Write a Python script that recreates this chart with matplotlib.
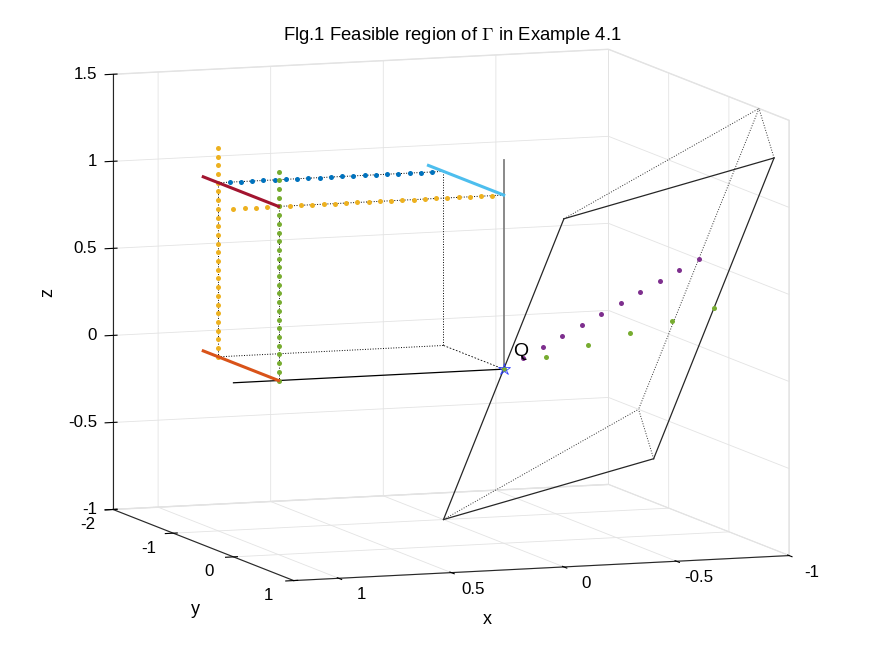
import numpy as np
import matplotlib.pyplot as plt
from mpl_toolkits.mplot3d import proj3d

plt.rcParams['font.family'] = ['Liberation Sans', 'DejaVu Sans']
plt.rcParams['mathtext.fontset'] = 'cm'
plt.rcParams['axes.unicode_minus'] = False
plt.rcParams['grid.color'] = '#e3e3e3'
plt.rcParams['grid.linewidth'] = 0.6

# axis ranges and ticks
x_lim = [-1, 1.2]
y_lim = [-2, 1]
z_lim = [-1, 1.5]
x_ticks = [-1, -0.5, 0, 0.5, 1]
y_ticks = [-2, -1, 0, 1]
z_ticks = [-1, -0.5, 0, 0.5, 1, 1.5]
x_ticklabels = ['-1', '-0.5', '0', '0.5', '1']
y_ticklabels = ['-2', '-1', '0', '1']
z_ticklabels = ['-1', '-0.5', '0', '0.5', '1', '1.5']

# unit cube edges (dotted)
cube_edges = [
    ((1, -1, 0), (1, -1, 1)),
    ((1, 0, 0), (1, 0, 1)),
    ((0, -1, 0), (0, -1, 1)),
    ((1, -1, 1), (0, -1, 1)),
    ((1, 0, 1), (0, 0, 1)),
    ((1, -1, 0), (0, -1, 0)),
    ((1, -1, 1), (1, 0, 1)),
    ((1, -1, 0), (1, 0, 0)),
    ((0, -1, 1), (0, 0, 1)),
]
cube_edge_dashed = ((0, -1, 0), (0, 0, 0))

# coloured solid segments: (x pair, y pair, z pair)
seg_red = ([1, 1], [-1.25, 0], [1, 1])
seg_orange = ([1, 1], [-1.25, 0], [0, 0])
seg_cyan = ([0, 0], [-1.25, 0], [1, 1])
seg_gray = ([0, 0], [0, 0], [0, 1.2])
seg_black = ([0, 1.2], [0, 0], [0, 0])

# dotted marker series
blue_x = [0.05, 0.1, 0.15, 0.2, 0.25, 0.3, 0.35, 0.4, 0.45, 0.5,
          0.55, 0.6, 0.65, 0.7, 0.75, 0.8, 0.85, 0.9, 0.95]
yellow_h_x = [0.05, 0.1, 0.15, 0.2, 0.25, 0.3, 0.35, 0.4, 0.45, 0.5,
              0.55, 0.6, 0.65, 0.7, 0.75, 0.8, 0.85, 0.9, 0.95, 1.0,
              1.05, 1.1, 1.15, 1.2]
vert_z = [0, 0.05, 0.1, 0.15, 0.2, 0.25, 0.3, 0.35, 0.4, 0.45, 0.5,
          0.55, 0.6, 0.65, 0.7, 0.75, 0.8, 0.85, 0.9, 0.95, 1.0,
          1.05, 1.1, 1.15, 1.2]

purple_x = [-0.1, -0.2, -0.3, -0.4, -0.5, -0.6, -0.7, -0.8, -0.9, -1.0]
purple_y = [-0.05, -0.1, -0.15, -0.2, -0.25, -0.3, -0.35, -0.4, -0.45, -0.5]
purple_z = [0.05, 0.1, 0.15, 0.2, 0.25, 0.3, 0.35, 0.4, 0.45, 0.5]
green_x = [0, -0.2, -0.4, -0.6, -0.8, -1.0]
green_y = [0, -0.05, -0.1, -0.15, -0.2, -0.25]
green_z = [0, 0.05, 0.1, 0.15, 0.2, 0.25]

# triangular prism: top A, B, C and bottom F, D, E
A, B, C = (0, 1, 1), (-1, 0.75, 1.25), (-1, 0.5, 1.5)
F, D, E = (0, -1, -1), (-1, -1.25, -0.75), (-1, -1.5, -0.5)
prism_solid = [(A, F), (A, B), (B, D), (D, F)]
prism_dotted = [(A, C), (B, C), (C, E), (D, E), (F, E)]

fig = plt.figure(figsize=(8.72, 6.54), dpi=100)
S = 820
cx, cy = 440, 326
ax = fig.add_axes([(cx - S / 2) / 872, 1 - (cy + S / 2) / 654, S / 872, S / 654],
                  projection='3d', proj_type='ortho', computed_zorder=False)
ax.view_init(elev=8.1, azim=70.3)
ax.set_box_aspect((1.197, 1.219, 1), zoom=1.32 * 640 / S)
ax.set_xlim(x_lim)
ax.set_ylim(y_lim)
ax.set_zlim(z_lim)
ax.set_xticks(x_ticks)
ax.set_yticks(y_ticks)
ax.set_zticks(z_ticks)

def seg(p, q, **kw):
    ax.plot([p[0], q[0]], [p[1], q[1]], [p[2], q[2]], **kw)

def label3d(x, y, z, s, **kw):
    # project the 3D anchor and place a plain 2D text there
    px, py, _ = proj3d.proj_transform(x, y, z, ax.get_proj())
    ax.text2D(px, py, s, transform=ax.transData, **kw)

for p, q in cube_edges:
    seg(p, q, color='k', ls=':', lw=0.7)
seg(*cube_edge_dashed, color='k', ls=(0, (2, 2)), lw=0.6)

ax.plot(*seg_gray, color='0.5', lw=1.3)
ax.plot(*seg_black, color='k', lw=0.9)

ms = 3.6
ax.plot(blue_x, [-1] * len(blue_x), [1] * len(blue_x), 'o', color='#0072BD', ms=ms, mew=0)
ax.plot(yellow_h_x, [0] * len(yellow_h_x), [1] * len(yellow_h_x), 'o', color='#EDB120', ms=ms, mew=0)
ax.plot([1] * len(vert_z), [-1] * len(vert_z), vert_z, 'o', color='#EDB120', ms=ms, mew=0)
ax.plot([1] * len(vert_z), [0] * len(vert_z), vert_z, 'o', color='#77AC30', ms=ms, mew=0)

ax.plot(*seg_red, color='#A2142F', lw=2.2)
ax.plot(*seg_orange, color='#D95319', lw=2.2)
ax.plot(*seg_cyan, color='#4DBEEE', lw=2.2)

for p, q in prism_solid:
    seg(p, q, color='0.15', lw=0.9)
for p, q in prism_dotted:
    seg(p, q, color='0.2', ls=':', lw=0.7)

ax.plot(purple_x, purple_y, purple_z, 'o', color='#7E2F8E', ms=ms, mew=0)
ax.plot(green_x, green_y, green_z, 'o', color='#77AC30', ms=ms, mew=0)
ax.plot([0], [0], [0], '*', color='#3344ff', ms=9, mew=0.6, fillstyle='none')
label3d(-0.04, 0, 0.1, 'Q', fontsize=14, ha='left', va='center')

# built-in tick labels, axis labels and title are switched off;
# the texts are drawn below at MATLAB-like positions
for axis in (ax.xaxis, ax.yaxis, ax.zaxis):
    axis.set_tick_params(label1On=False, label2On=False)
    axis.label.set_visible(False)
    axis.offsetText.set_visible(False)
    axis.set_pane_color((1, 1, 1, 1))
    axis.pane.set_edgecolor('#e3e3e3')
    axis.line.set_color('0.15')
    axis.line.set_linewidth(0.8)
ax.title.set_visible(False)
ax._left_title.set_visible(False)
ax._right_title.set_visible(False)

fs = 12.2
for v, s in zip(x_ticks, x_ticklabels):
    label3d(v, y_lim[1] + 0.37, z_lim[0] - 0.045, s, fontsize=fs, ha='center', va='center')
for v, s in zip(y_ticks, y_ticklabels):
    label3d(x_lim[1] + 0.11, v, z_lim[0] - 0.078, s, fontsize=fs, ha='center', va='center')
for v, s in zip(z_ticks, z_ticklabels):
    label3d(x_lim[1] + 0.062, y_lim[0] - 0.035, v, s, fontsize=fs, ha='right', va='center')

fig.text(487 / 872, 1 - 620 / 654, 'x', ha='center', va='center', fontsize=13)
fig.text(195 / 872, 1 - 610 / 654, 'y', ha='center', va='center', fontsize=13)
fig.text(48 / 872, 1 - 292 / 654, 'z', ha='center', va='center', fontsize=13, rotation=90)
fig.text(452 / 872, 1 - 35 / 654, r'Flg.1 Feasible region of $\Gamma$ in Example 4.1',
         ha='center', va='center', fontsize=13.3)

fig.savefig('out.png', dpi=100)
